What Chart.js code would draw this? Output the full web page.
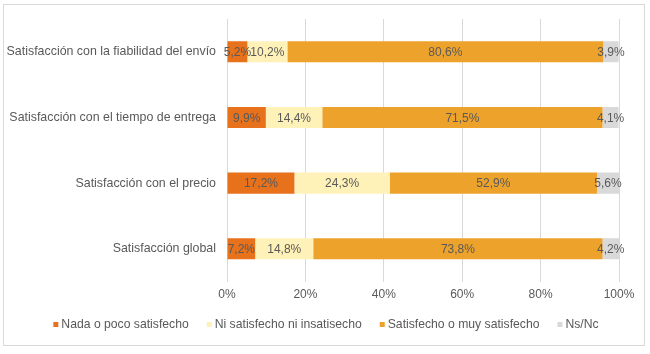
<!DOCTYPE html>
<html><head><meta charset="utf-8">
<script src="https://cdn.jsdelivr.net/npm/chart.js@4/dist/chart.umd.min.js"></script>
<style>
html,body{margin:0;padding:0;background:#fff;}
#wrap{position:relative;width:650px;height:354px;}
#frame{position:absolute;left:3px;top:4px;width:640px;height:340px;border:1px solid #d9d9d9;pointer-events:none;}
</style></head>
<body>
<div id="wrap"><canvas id="c" width="650" height="354"></canvas><div id="frame"></div></div>
<script>
const categories = ["Satisfacción con la fiabilidad del envío","Satisfacción con el tiempo de entrega","Satisfacción con el precio","Satisfacción global"];
const seriesNames = ["Nada o poco satisfecho","Ni satisfecho ni insatisecho","Satisfecho o muy satisfecho","Ns/Nc"];
const nada = [5.2, 9.9, 17.2, 7.2];
const ni = [10.2, 14.4, 24.3, 14.8];
const satisfecho = [80.6, 71.5, 52.9, 73.8];
const nsnc = [3.9, 4.1, 5.6, 4.2];
const xTicks = [0, 20, 40, 60, 80, 100];
const colors = ["#E8711C", "#FFF2B8", "#EDA32B", "#D9D9D9"];

const font = "'Liberation Sans', Arial, sans-serif";
const labelPlugin = {
  id: 'segLabels',
  afterDatasetsDraw(chart) {
    const ctx = chart.ctx;
    ctx.save();
    ctx.font = "12px " + font;
    ctx.fillStyle = "#595959";
    ctx.textAlign = "center";
    ctx.textBaseline = "middle";
    chart.data.datasets.forEach((ds, i) => {
      const meta = chart.getDatasetMeta(i);
      meta.data.forEach((el, j) => {
        const cx = (el.x + el.base) / 2;
        ctx.fillText(ds.data[j].toFixed(1).replace('.', ',') + '%', cx, el.y + 1);
      });
    });
    ctx.restore();
  }
};

const legendPlugin = {
  id: 'customLegend',
  afterDraw(chart) {
    const ctx = chart.ctx;
    ctx.save();
    ctx.font = "12.2px " + font;
    ctx.textBaseline = "middle";
    ctx.textAlign = "left";
    const box = 5, gap = 3, itemGap = 18;
    const items = chart.data.datasets.map(ds => ({ text: ds.label, color: ds.backgroundColor, w: box + gap + ctx.measureText(ds.label).width }));
    const total = items.reduce((a, it) => a + it.w, 0) + itemGap * (items.length - 1);
    let x = 326 - total / 2;
    const y = 325;
    items.forEach(it => {
      ctx.fillStyle = it.color;
      ctx.fillRect(x, y - 3, box, box);
      ctx.fillStyle = "#595959";
      ctx.fillText(it.text, x + box + gap, y);
      x += it.w + itemGap;
    });
    ctx.restore();
  }
};

const allSeries = [nada, ni, satisfecho, nsnc];
new Chart(document.getElementById('c'), {
  type: 'bar',
  data: {
    labels: categories,
    datasets: allSeries.map((d, i) => ({
      label: seriesNames[i], data: d, backgroundColor: colors[i],
      borderWidth: 0, categoryPercentage: 1, barPercentage: 0.32
    }))
  },
  options: {
    indexAxis: 'y',
    responsive: false,
    animation: false,
    layout: { padding: { left: 0, right: 31, top: 19, bottom: 46 } },
    scales: {
      x: {
        stacked: true, min: 0, max: 100,
        afterBuildTicks: s => { s.ticks = xTicks.map(v => ({ value: v })); },
        ticks: { callback: v => v + '%', color: '#595959', font: { family: font, size: 12 }, padding: 6 },
        grid: { color: '#d9d9d9', drawTicks: false },
        border: { display: false }
      },
      y: {
        stacked: true,
        afterFit: s => { s.width = 227; },
        ticks: { color: '#595959', font: { family: font, size: 12.4 }, padding: 11 },
        grid: { display: false, drawTicks: false },
        border: { display: false }
      }
    },
    plugins: {
      legend: { display: false },
      tooltip: { enabled: false }
    }
  },
  plugins: [labelPlugin, legendPlugin]
});
</script>
</body></html>
